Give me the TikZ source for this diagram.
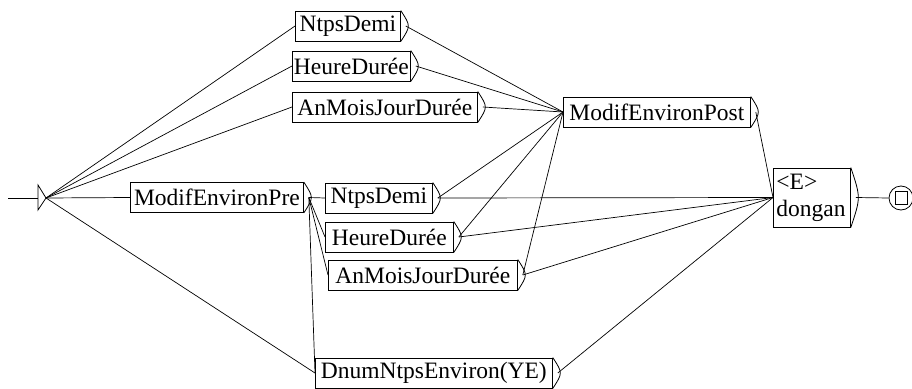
\documentclass[tikz,border=0pt]{standalone}
\usepackage{fontspec}
\setmainfont{Liberation Serif}
\begin{document}
\begin{tikzpicture}[x=1pt,y=-1pt,
  box/.style={draw,line width=0.8pt,inner sep=0pt,minimum height=30pt,anchor=west,
              font=\fontsize{23.5}{27}\selectfont},
  tr/.style={line width=0.7pt},
  brk/.style={line width=0.8pt}]
\useasboundingbox (0,0) rectangle (912,388);
% boxes
\node[box,minimum width=105pt] (tN) at (295,26) {NtpsDemi};
\node[box,minimum width=118pt] (tH) at (292,66) {HeureDurée};
\node[box,minimum width=185pt] (tA) at (292,107) {AnMoisJourDurée};
\node[box,minimum width=187pt] (post) at (563,112) {ModifEnvironPost};
\node[box,minimum width=173pt] (pre) at (130,197.5) {ModifEnvironPre};
\node[box,minimum width=107pt] (mN) at (325,198) {NtpsDemi};
\node[box,minimum width=128pt] (mH) at (325,237) {HeureDurée};
\node[box,minimum width=189pt] (mA) at (328,275) {AnMoisJourDurée};
\node[box,minimum width=237pt] (dn) at (315,373) {DnumNtpsEnviron(YE)};
\node[box,minimum height=59pt,inner xsep=3pt,text width=71pt,align=left] (dg) at (773,197.5) {<E>\\dongan};
% brackets
\foreach \n in {tN,tH,tA,post,pre,mN,mH,mA,dn,dg}
  \draw[brk] (\n.north east) .. controls ([xshift=10pt]\n.east) .. (\n.south east);
% initial state
\coordinate (s0) at (8,198);
\coordinate (init) at (46,198);
\draw[brk] ([xshift=-8pt,yshift=-12pt]init) -- (init) -- ([xshift=-8pt,yshift=13pt]init) -- cycle;
\draw[tr] (s0) -- ([xshift=-8pt]init);
% final state
\node[draw,circle,minimum size=24pt,inner sep=0pt,line width=0.8pt] (fin) at (901,198) {};
\node[draw,minimum width=12pt,minimum height=13pt,inner sep=0pt,line width=0.8pt] (finsq) at (fin) {};
% transitions
\foreach \t in {tN,tH,tA,pre,dn}
  \draw[tr] (init) -- (\t.west);
\foreach \s in {tN,tH,tA,mN,mH,mA}
  \draw[tr] ([xshift=5pt]\s.east) -- (post.west);
\foreach \t in {mN,mH,mA,dn}
  \draw[tr] ([xshift=5pt]pre.east) -- (\t.west);
\foreach \s in {post,mN,mH,mA,dn}
  \draw[tr] ([xshift=5pt]\s.east) -- (dg.west);
\draw[tr] ([xshift=5pt]dg.east) -- (fin.west);
\end{tikzpicture}
\end{document}
